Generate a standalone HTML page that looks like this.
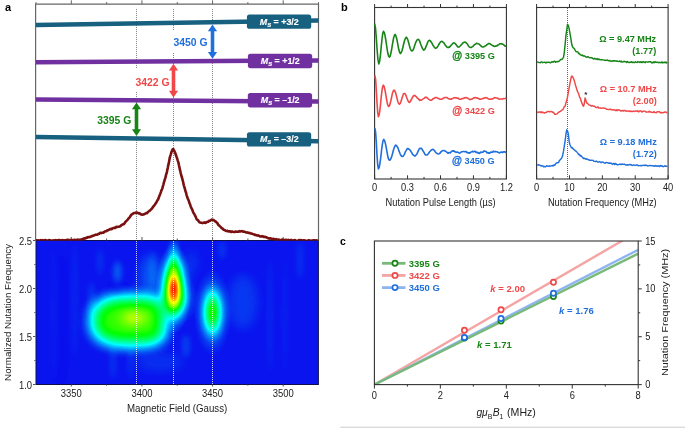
<!DOCTYPE html>
<html><head><meta charset="utf-8"><style>
html,body{margin:0;padding:0;background:#fff;overflow:hidden;width:685px;height:428px;}
svg{display:block;filter:blur(0.35px);}
text{font-family:"Liberation Sans", sans-serif;}
</style></head><body>
<svg width="685" height="428" viewBox="0 0 685 428">
<defs>
<filter id="cmap" x="0" y="0" width="1" height="1" color-interpolation-filters="sRGB">
<feComponentTransfer>
<feFuncR type="table" tableValues="0.04 0 0 1 1"/>
<feFuncG type="table" tableValues="0 1 1 1 0"/>
<feFuncB type="table" tableValues="0.93 1 0 0 0"/>
</feComponentTransfer>
</filter>
<filter id="bl5" filterUnits="userSpaceOnUse" x="30" y="230" width="300" height="170" color-interpolation-filters="sRGB"><feGaussianBlur stdDeviation="5"/></filter>
<filter id="bl9" filterUnits="userSpaceOnUse" x="30" y="230" width="300" height="170" color-interpolation-filters="sRGB"><feGaussianBlur stdDeviation="6"/></filter>
<filter id="bl7" filterUnits="userSpaceOnUse" x="30" y="230" width="300" height="170" color-interpolation-filters="sRGB"><feGaussianBlur stdDeviation="7"/></filter>
<filter id="bl3" filterUnits="userSpaceOnUse" x="30" y="230" width="300" height="170" color-interpolation-filters="sRGB"><feGaussianBlur stdDeviation="3"/></filter>
<clipPath id="hmclip"><rect x="36" y="240.5" width="282.5" height="144"/></clipPath>

<radialGradient id="gRed" cx="0.5" cy="0.5" r="0.5"><stop offset="0" stop-color="#fff" stop-opacity="0.969"/><stop offset="0.08" stop-color="#fff" stop-opacity="0.940"/><stop offset="0.17" stop-color="#fff" stop-opacity="0.855"/><stop offset="0.25" stop-color="#fff" stop-opacity="0.732"/><stop offset="0.33" stop-color="#fff" stop-opacity="0.588"/><stop offset="0.42" stop-color="#fff" stop-opacity="0.444"/><stop offset="0.5" stop-color="#fff" stop-opacity="0.315"/><stop offset="0.58" stop-color="#fff" stop-opacity="0.210"/><stop offset="0.67" stop-color="#fff" stop-opacity="0.131"/><stop offset="0.75" stop-color="#fff" stop-opacity="0.077"/><stop offset="0.83" stop-color="#fff" stop-opacity="0.043"/><stop offset="0.92" stop-color="#fff" stop-opacity="0.022"/><stop offset="1" stop-color="#fff" stop-opacity="0.000"/></radialGradient>
<radialGradient id="gRedLow" cx="0.5" cy="0.5" r="0.5"><stop offset="0" stop-color="#fff" stop-opacity="0.286"/><stop offset="0.08" stop-color="#fff" stop-opacity="0.277"/><stop offset="0.17" stop-color="#fff" stop-opacity="0.252"/><stop offset="0.25" stop-color="#fff" stop-opacity="0.216"/><stop offset="0.33" stop-color="#fff" stop-opacity="0.173"/><stop offset="0.42" stop-color="#fff" stop-opacity="0.131"/><stop offset="0.5" stop-color="#fff" stop-opacity="0.093"/><stop offset="0.58" stop-color="#fff" stop-opacity="0.062"/><stop offset="0.67" stop-color="#fff" stop-opacity="0.039"/><stop offset="0.75" stop-color="#fff" stop-opacity="0.023"/><stop offset="0.83" stop-color="#fff" stop-opacity="0.013"/><stop offset="0.92" stop-color="#fff" stop-opacity="0.007"/><stop offset="1" stop-color="#fff" stop-opacity="0.000"/></radialGradient>
<radialGradient id="gRedTop" cx="0.5" cy="0.5" r="0.5"><stop offset="0" stop-color="#fff" stop-opacity="0.235"/><stop offset="0.08" stop-color="#fff" stop-opacity="0.227"/><stop offset="0.17" stop-color="#fff" stop-opacity="0.207"/><stop offset="0.25" stop-color="#fff" stop-opacity="0.177"/><stop offset="0.33" stop-color="#fff" stop-opacity="0.142"/><stop offset="0.42" stop-color="#fff" stop-opacity="0.107"/><stop offset="0.5" stop-color="#fff" stop-opacity="0.076"/><stop offset="0.58" stop-color="#fff" stop-opacity="0.051"/><stop offset="0.67" stop-color="#fff" stop-opacity="0.032"/><stop offset="0.75" stop-color="#fff" stop-opacity="0.019"/><stop offset="0.83" stop-color="#fff" stop-opacity="0.010"/><stop offset="0.92" stop-color="#fff" stop-opacity="0.005"/><stop offset="1" stop-color="#fff" stop-opacity="0.000"/></radialGradient>
<radialGradient id="gSmall" cx="0.5" cy="0.5" r="0.5"><stop offset="0" stop-color="#fff" stop-opacity="0.490"/><stop offset="0.08" stop-color="#fff" stop-opacity="0.475"/><stop offset="0.17" stop-color="#fff" stop-opacity="0.432"/><stop offset="0.25" stop-color="#fff" stop-opacity="0.370"/><stop offset="0.33" stop-color="#fff" stop-opacity="0.297"/><stop offset="0.42" stop-color="#fff" stop-opacity="0.224"/><stop offset="0.5" stop-color="#fff" stop-opacity="0.159"/><stop offset="0.58" stop-color="#fff" stop-opacity="0.106"/><stop offset="0.67" stop-color="#fff" stop-opacity="0.066"/><stop offset="0.75" stop-color="#fff" stop-opacity="0.039"/><stop offset="0.83" stop-color="#fff" stop-opacity="0.022"/><stop offset="0.92" stop-color="#fff" stop-opacity="0.011"/><stop offset="1" stop-color="#fff" stop-opacity="0.000"/></radialGradient>
<radialGradient id="gYel" cx="0.5" cy="0.5" r="0.5"><stop offset="0" stop-color="#fff" stop-opacity="0.292"/><stop offset="0.08" stop-color="#fff" stop-opacity="0.283"/><stop offset="0.17" stop-color="#fff" stop-opacity="0.257"/><stop offset="0.25" stop-color="#fff" stop-opacity="0.220"/><stop offset="0.33" stop-color="#fff" stop-opacity="0.177"/><stop offset="0.42" stop-color="#fff" stop-opacity="0.134"/><stop offset="0.5" stop-color="#fff" stop-opacity="0.095"/><stop offset="0.58" stop-color="#fff" stop-opacity="0.063"/><stop offset="0.67" stop-color="#fff" stop-opacity="0.039"/><stop offset="0.75" stop-color="#fff" stop-opacity="0.023"/><stop offset="0.83" stop-color="#fff" stop-opacity="0.013"/><stop offset="0.92" stop-color="#fff" stop-opacity="0.007"/><stop offset="1" stop-color="#fff" stop-opacity="0.000"/></radialGradient>
<radialGradient id="gF12" cx="0.5" cy="0.5" r="0.5"><stop offset="0" stop-color="#fff" stop-opacity="0.102"/><stop offset="0.08" stop-color="#fff" stop-opacity="0.099"/><stop offset="0.17" stop-color="#fff" stop-opacity="0.090"/><stop offset="0.25" stop-color="#fff" stop-opacity="0.077"/><stop offset="0.33" stop-color="#fff" stop-opacity="0.062"/><stop offset="0.42" stop-color="#fff" stop-opacity="0.047"/><stop offset="0.5" stop-color="#fff" stop-opacity="0.033"/><stop offset="0.58" stop-color="#fff" stop-opacity="0.022"/><stop offset="0.67" stop-color="#fff" stop-opacity="0.014"/><stop offset="0.75" stop-color="#fff" stop-opacity="0.008"/><stop offset="0.83" stop-color="#fff" stop-opacity="0.004"/><stop offset="0.92" stop-color="#fff" stop-opacity="0.002"/><stop offset="1" stop-color="#fff" stop-opacity="0.000"/></radialGradient>
<radialGradient id="gF09" cx="0.5" cy="0.5" r="0.5"><stop offset="0" stop-color="#fff" stop-opacity="0.071"/><stop offset="0.08" stop-color="#fff" stop-opacity="0.069"/><stop offset="0.17" stop-color="#fff" stop-opacity="0.063"/><stop offset="0.25" stop-color="#fff" stop-opacity="0.054"/><stop offset="0.33" stop-color="#fff" stop-opacity="0.043"/><stop offset="0.42" stop-color="#fff" stop-opacity="0.033"/><stop offset="0.5" stop-color="#fff" stop-opacity="0.023"/><stop offset="0.58" stop-color="#fff" stop-opacity="0.015"/><stop offset="0.67" stop-color="#fff" stop-opacity="0.010"/><stop offset="0.75" stop-color="#fff" stop-opacity="0.006"/><stop offset="0.83" stop-color="#fff" stop-opacity="0.003"/><stop offset="0.92" stop-color="#fff" stop-opacity="0.002"/><stop offset="1" stop-color="#fff" stop-opacity="0.000"/></radialGradient>
<radialGradient id="gF06" cx="0.5" cy="0.5" r="0.5"><stop offset="0" stop-color="#fff" stop-opacity="0.041"/><stop offset="0.08" stop-color="#fff" stop-opacity="0.040"/><stop offset="0.17" stop-color="#fff" stop-opacity="0.036"/><stop offset="0.25" stop-color="#fff" stop-opacity="0.031"/><stop offset="0.33" stop-color="#fff" stop-opacity="0.025"/><stop offset="0.42" stop-color="#fff" stop-opacity="0.019"/><stop offset="0.5" stop-color="#fff" stop-opacity="0.013"/><stop offset="0.58" stop-color="#fff" stop-opacity="0.009"/><stop offset="0.67" stop-color="#fff" stop-opacity="0.006"/><stop offset="0.75" stop-color="#fff" stop-opacity="0.003"/><stop offset="0.83" stop-color="#fff" stop-opacity="0.002"/><stop offset="0.92" stop-color="#fff" stop-opacity="0.001"/><stop offset="1" stop-color="#fff" stop-opacity="0.000"/></radialGradient>
</defs>

<text x="5" y="10.8" font-size="11" font-weight="bold">a</text>

<g clip-path="url(#hmclip)"><g filter="url(#cmap)">
<rect x="36" y="240.5" width="282.5" height="144" fill="rgb(5,5,5)"/>
<g filter="url(#bl9)">
<path d="M170.8,321.5 L170.68,325.79 L170.31,328.78 L169.69,331.4 L168.84,333.77 L167.74,335.94 L166.4,337.93 L164.83,339.76 L163.01,341.43 L160.97,342.95 L158.7,344.31 L156.19,345.52 L153.44,346.57 L150.45,347.46 L147.2,348.19 L143.65,348.76 L139.72,349.17 L135.23,349.42 L128.8,349.5 L122.37,349.42 L117.88,349.17 L113.95,348.76 L110.4,348.19 L107.15,347.46 L104.16,346.57 L101.41,345.52 L98.9,344.31 L96.63,342.95 L94.59,341.43 L92.77,339.76 L91.2,337.93 L89.86,335.94 L88.76,333.77 L87.91,331.4 L87.29,328.78 L86.92,325.79 L86.8,321.5 L86.92,317.21 L87.29,314.22 L87.91,311.6 L88.76,309.23 L89.86,307.06 L91.2,305.07 L92.77,303.24 L94.59,301.57 L96.63,300.05 L98.9,298.69 L101.41,297.48 L104.16,296.43 L107.15,295.54 L110.4,294.81 L113.95,294.24 L117.88,293.83 L122.37,293.58 L128.8,293.5 L135.23,293.58 L139.72,293.83 L143.65,294.24 L147.2,294.81 L150.45,295.54 L153.44,296.43 L156.19,297.48 L158.7,298.69 L160.97,300.05 L163.01,301.57 L164.83,303.24 L166.4,305.07 L167.74,307.06 L168.84,309.23 L169.69,311.6 L170.31,314.22 L170.68,317.21 Z" fill="#fff" fill-opacity="0.11"/>
<ellipse cx="175" cy="290" rx="13" ry="32" fill="#fff" fill-opacity="0.08"/>
<ellipse cx="212.5" cy="312" rx="10" ry="24" fill="#fff" fill-opacity="0.06"/>
<ellipse cx="150" cy="276" rx="10" ry="22" fill="#fff" fill-opacity="0.07"/>
<ellipse cx="243" cy="302" rx="15" ry="28" fill="#fff" fill-opacity="0.04"/>
<ellipse cx="192" cy="262" rx="5" ry="14" fill="#fff" fill-opacity="0.04"/>
<ellipse cx="160" cy="362" rx="25" ry="10" fill="#fff" fill-opacity="0.03"/>
</g>
<g filter="url(#bl3)">
<ellipse cx="53" cy="310" rx="2" ry="70" fill="#fff" fill-opacity="0.025"/>
<ellipse cx="75" cy="300" rx="2.5" ry="60" fill="#fff" fill-opacity="0.03"/>
<ellipse cx="91.5" cy="300" rx="3" ry="18" fill="#fff" fill-opacity="0.05"/>
<ellipse cx="113" cy="362" rx="3" ry="18" fill="#fff" fill-opacity="0.04"/>
<ellipse cx="131" cy="362" rx="3" ry="18" fill="#fff" fill-opacity="0.035"/>
<ellipse cx="186" cy="346" rx="3.5" ry="12" fill="#fff" fill-opacity="0.06"/>
<ellipse cx="153" cy="270" rx="3" ry="20" fill="#fff" fill-opacity="0.04"/>
<ellipse cx="270" cy="315" rx="2.5" ry="60" fill="#fff" fill-opacity="0.03"/>
<ellipse cx="285" cy="315" rx="2.5" ry="60" fill="#fff" fill-opacity="0.025"/>
<ellipse cx="117.5" cy="272" rx="3.2" ry="11" fill="#fff" fill-opacity="0.1"/>
<ellipse cx="100" cy="262" rx="3" ry="14" fill="#fff" fill-opacity="0.04"/>
<ellipse cx="174" cy="252" rx="3" ry="13" fill="#fff" fill-opacity="0.12"/>
<ellipse cx="222" cy="250" rx="4" ry="10" fill="#fff" fill-opacity="0.04"/>
<ellipse cx="300" cy="260" rx="4" ry="20" fill="#fff" fill-opacity="0.03"/>
<ellipse cx="117.5" cy="290" rx="5" ry="3.5" fill="#000" fill-opacity="0.55"/>
<ellipse cx="169" cy="321" rx="3" ry="9" fill="#000" fill-opacity="0.45"/>
<ellipse cx="60" cy="320" rx="2" ry="60" fill="#000" fill-opacity="0.25"/>
</g>
<g filter="url(#bl7)">
<path d="M163.3,321.2 L163.27,327.69 L163.17,330.02 L163.01,331.74 L162.78,333.16 L162.49,334.36 L162.13,335.42 L161.7,336.37 L161.21,337.22 L160.64,337.99 L160,338.68 L159.28,339.32 L158.47,339.89 L157.59,340.4 L156.61,340.87 L155.53,341.28 L154.34,341.65 L153.02,341.97 L151.56,342.25 L149.91,342.48 L148.04,342.67 L145.85,342.81 L143.17,342.92 L139.56,342.98 L129.5,343 L125.49,342.96 L122.54,342.85 L119.9,342.66 L117.46,342.4 L115.18,342.07 L113.04,341.66 L111.02,341.18 L109.11,340.63 L107.32,340.01 L105.63,339.31 L104.06,338.55 L102.6,337.72 L101.24,336.82 L100,335.86 L98.87,334.82 L97.86,333.72 L96.96,332.55 L96.18,331.31 L95.52,329.99 L94.97,328.59 L94.55,327.1 L94.24,325.48 L94.06,323.66 L94,321.2 L94.06,318.63 L94.24,316.73 L94.55,315.03 L94.97,313.47 L95.52,312 L96.18,310.63 L96.96,309.33 L97.86,308.1 L98.87,306.95 L100,305.87 L101.24,304.86 L102.6,303.92 L104.06,303.05 L105.63,302.25 L107.32,301.53 L109.11,300.88 L111.02,300.3 L113.04,299.8 L115.18,299.37 L117.46,299.02 L119.9,298.75 L122.54,298.56 L125.49,298.44 L129.5,298.4 L139.56,298.42 L143.17,298.49 L145.85,298.6 L148.04,298.75 L149.91,298.95 L151.56,299.19 L153.02,299.48 L154.34,299.81 L155.53,300.2 L156.61,300.63 L157.59,301.11 L158.47,301.65 L159.28,302.25 L160,302.91 L160.64,303.64 L161.21,304.45 L161.7,305.33 L162.13,306.32 L162.49,307.43 L162.78,308.7 L163.01,310.17 L163.17,311.98 L163.27,314.42 Z" fill="#fff" fill-opacity="0.48"/>
</g>
<ellipse cx="134" cy="318" rx="28.5" ry="19.5" fill="url(#gYel)"/>
<ellipse cx="174.5" cy="299" rx="24" ry="27" fill="url(#gRedLow)"/>
<ellipse cx="173.7" cy="288.8" rx="18" ry="45" fill="url(#gRed)"/>
<ellipse cx="173.8" cy="268" rx="12.6" ry="27" fill="url(#gRedTop)"/>
<ellipse cx="212.5" cy="312.5" rx="18.9" ry="43.5" fill="url(#gSmall)"/>
</g>
<line x1="136.5" y1="241" x2="136.5" y2="384" stroke="#fff" stroke-width="1" stroke-dasharray="1,1" stroke-opacity="0.8"/>
<line x1="173.5" y1="241" x2="173.5" y2="384" stroke="#fff" stroke-width="1" stroke-dasharray="1,1" stroke-opacity="0.8"/>
<line x1="212.5" y1="241" x2="212.5" y2="384" stroke="#fff" stroke-width="1" stroke-dasharray="1,1" stroke-opacity="0.8"/>
</g>

<rect x="36" y="240.5" width="282.4" height="144" fill="none" stroke="#101048" stroke-width="1"/>

<path d="M35.6,240.5 V4.1 H318.5 V240.5" fill="none" stroke="#666" stroke-width="1.2"/>

<line x1="36" y1="2.1" x2="36" y2="4" stroke="#666" stroke-width="1"/>
<line x1="71.31" y1="0.3" x2="71.31" y2="4" stroke="#666" stroke-width="1"/>
<line x1="106.62" y1="2.1" x2="106.62" y2="4" stroke="#666" stroke-width="1"/>
<line x1="141.94" y1="0.3" x2="141.94" y2="4" stroke="#666" stroke-width="1"/>
<line x1="177.25" y1="2.1" x2="177.25" y2="4" stroke="#666" stroke-width="1"/>
<line x1="212.56" y1="0.3" x2="212.56" y2="4" stroke="#666" stroke-width="1"/>
<line x1="247.88" y1="2.1" x2="247.88" y2="4" stroke="#666" stroke-width="1"/>
<line x1="283.19" y1="0.3" x2="283.19" y2="4" stroke="#666" stroke-width="1"/>
<line x1="318.5" y1="2.1" x2="318.5" y2="4" stroke="#666" stroke-width="1"/>
<line x1="71.31" y1="237.0" x2="71.31" y2="240.5" stroke="#444" stroke-width="0.9"/>
<line x1="71.31" y1="384.5" x2="71.31" y2="386.5" stroke="#444" stroke-width="0.9"/>
<line x1="106.62" y1="238.5" x2="106.62" y2="240.5" stroke="#444" stroke-width="0.9"/>
<line x1="106.62" y1="384.5" x2="106.62" y2="385.7" stroke="#444" stroke-width="0.9"/>
<line x1="141.94" y1="237.0" x2="141.94" y2="240.5" stroke="#444" stroke-width="0.9"/>
<line x1="141.94" y1="384.5" x2="141.94" y2="386.5" stroke="#444" stroke-width="0.9"/>
<line x1="177.25" y1="238.5" x2="177.25" y2="240.5" stroke="#444" stroke-width="0.9"/>
<line x1="177.25" y1="384.5" x2="177.25" y2="385.7" stroke="#444" stroke-width="0.9"/>
<line x1="212.56" y1="237.0" x2="212.56" y2="240.5" stroke="#444" stroke-width="0.9"/>
<line x1="212.56" y1="384.5" x2="212.56" y2="386.5" stroke="#444" stroke-width="0.9"/>
<line x1="247.88" y1="238.5" x2="247.88" y2="240.5" stroke="#444" stroke-width="0.9"/>
<line x1="247.88" y1="384.5" x2="247.88" y2="385.7" stroke="#444" stroke-width="0.9"/>
<line x1="283.19" y1="237.0" x2="283.19" y2="240.5" stroke="#444" stroke-width="0.9"/>
<line x1="283.19" y1="384.5" x2="283.19" y2="386.5" stroke="#444" stroke-width="0.9"/>
<line x1="33.0" y1="240.5" x2="35.5" y2="240.5" stroke="#444" stroke-width="0.9"/>
<line x1="34.3" y1="264.5" x2="35.5" y2="264.5" stroke="#444" stroke-width="0.9"/>
<line x1="33.0" y1="288.5" x2="35.5" y2="288.5" stroke="#444" stroke-width="0.9"/>
<line x1="34.3" y1="312.5" x2="35.5" y2="312.5" stroke="#444" stroke-width="0.9"/>
<line x1="33.0" y1="336.5" x2="35.5" y2="336.5" stroke="#444" stroke-width="0.9"/>
<line x1="34.3" y1="360.5" x2="35.5" y2="360.5" stroke="#444" stroke-width="0.9"/>
<line x1="33.0" y1="384.5" x2="35.5" y2="384.5" stroke="#444" stroke-width="0.9"/>
<text transform="translate(32.1,244.5) scale(0.9,1.0)" font-size="10.5" text-anchor="end" fill="#222">2.5</text>
<text transform="translate(32.1,292.5) scale(0.9,1.0)" font-size="10.5" text-anchor="end" fill="#222">2.0</text>
<text transform="translate(32.1,340.5) scale(0.9,1.0)" font-size="10.5" text-anchor="end" fill="#222">1.5</text>
<text transform="translate(32.1,388.5) scale(0.9,1.0)" font-size="10.5" text-anchor="end" fill="#222">1.0</text>
<text transform="translate(71.31,396.9) scale(0.9,1.0)" font-size="10.5" text-anchor="middle" fill="#222">3350</text>
<text transform="translate(141.94,396.9) scale(0.9,1.0)" font-size="10.5" text-anchor="middle" fill="#222">3400</text>
<text transform="translate(212.56,396.9) scale(0.9,1.0)" font-size="10.5" text-anchor="middle" fill="#222">3450</text>
<text transform="translate(283.19,396.9) scale(0.9,1.0)" font-size="10.5" text-anchor="middle" fill="#222">3500</text>
<text transform="translate(177.1,411.5) scale(0.925,1.0)" font-size="10.5" text-anchor="middle" fill="#222">Magnetic Field (Gauss)</text>
<text transform="translate(11,312.4) rotate(-90) scale(1.0,0.95)" font-size="9.75" text-anchor="middle" fill="#222">Normalized Nutation Frequency</text>
<line x1="136.5" y1="9" x2="136.5" y2="68" stroke="#858585" stroke-width="1" stroke-dasharray="1,1"/>
<line x1="136.5" y1="92" x2="136.5" y2="240" stroke="#858585" stroke-width="1" stroke-dasharray="1,1"/>
<line x1="173.5" y1="9" x2="173.5" y2="30" stroke="#858585" stroke-width="1" stroke-dasharray="1,1"/>
<line x1="173.5" y1="53" x2="173.5" y2="240" stroke="#858585" stroke-width="1" stroke-dasharray="1,1"/>
<line x1="212.5" y1="9" x2="212.5" y2="240" stroke="#858585" stroke-width="1" stroke-dasharray="1,1"/>
<line x1="36" y1="24.9" x2="318.5" y2="20.6" stroke="#17607f" stroke-width="4.5"/>
<line x1="36" y1="62.2" x2="318.5" y2="60.4" stroke="#7030a0" stroke-width="4.5"/>
<line x1="36" y1="99.5" x2="318.5" y2="101.6" stroke="#7030a0" stroke-width="4.5"/>
<line x1="36" y1="136.9" x2="318.5" y2="141.2" stroke="#17607f" stroke-width="4.5"/>
<rect x="246.9" y="14.4" width="64.3" height="14.4" rx="2.6" fill="#17607f"/>
<text x="279.3" y="24.6" font-size="8.9" font-weight="bold" fill="#fff" stroke="#fff" stroke-width="0.15" text-anchor="middle"><tspan font-style="italic">M</tspan><tspan font-style="italic" font-size="5.8" dy="2">S</tspan><tspan dy="-2"> = +3/2</tspan></text>
<rect x="247.9" y="53.8" width="64.3" height="14.4" rx="2.6" fill="#7030a0"/>
<text x="280.3" y="64" font-size="8.9" font-weight="bold" fill="#fff" stroke="#fff" stroke-width="0.15" text-anchor="middle"><tspan font-style="italic">M</tspan><tspan font-style="italic" font-size="5.8" dy="2">S</tspan><tspan dy="-2"> = +1/2</tspan></text>
<rect x="247.8" y="93.0" width="64.3" height="14.4" rx="2.6" fill="#7030a0"/>
<text x="280.2" y="103.2" font-size="8.9" font-weight="bold" fill="#fff" stroke="#fff" stroke-width="0.15" text-anchor="middle"><tspan font-style="italic">M</tspan><tspan font-style="italic" font-size="5.8" dy="2">S</tspan><tspan dy="-2"> = –1/2</tspan></text>
<rect x="246.9" y="132.2" width="64.3" height="14.4" rx="2.6" fill="#17607f"/>
<text x="279.3" y="142.4" font-size="8.9" font-weight="bold" fill="#fff" stroke="#fff" stroke-width="0.15" text-anchor="middle"><tspan font-style="italic">M</tspan><tspan font-style="italic" font-size="5.8" dy="2">S</tspan><tspan dy="-2"> = –3/2</tspan></text>
<path d="M136.5,102.4 L141.1,109.2 L138.3,109.2 L138.3,129.2 L141.1,129.2 L136.5,136.0 L131.9,129.2 L134.7,129.2 L134.7,109.2 L131.9,109.2 Z" fill="#168516"/>
<path d="M173.5,63.7 L178.1,70.5 L175.3,70.5 L175.3,90.8 L178.1,90.8 L173.5,97.6 L168.9,90.8 L171.7,90.8 L171.7,70.5 L168.9,70.5 Z" fill="#f04848"/>
<path d="M212.5,24.5 L217.1,31.3 L214.3,31.3 L214.3,51.9 L217.1,51.9 L212.5,58.7 L207.9,51.9 L210.7,51.9 L210.7,31.3 L207.9,31.3 Z" fill="#1f6fdc"/>
<text x="97.2" y="123.9" font-size="10.4" font-weight="bold" fill="#168516">3395 G</text>
<text x="135.4" y="85.9" font-size="10.4" font-weight="bold" fill="#f04848">3422 G</text>
<text x="173.4" y="46.4" font-size="10.4" font-weight="bold" fill="#1f6fdc">3450 G</text>

<clipPath id="specclip"><rect x="36" y="0" width="283" height="240.4"/></clipPath>
<path d="M36,240.44 L36.52,240.28 L37.16,240.73 L37.89,240.2 L38.7,240.62 L39.59,240.46 L40.54,240.17 L41.55,240.57 L42.59,240.14 L43.66,240.49 L44.74,240.16 L45.83,240.17 L46.91,240.46 L47.98,240.81 L49.01,240.17 L50,240.25 L50.91,240.61 L51.83,240.89 L52.75,240.55 L53.68,240.38 L54.61,240.89 L55.55,240.05 L56.49,240.77 L57.44,240.25 L58.38,240.11 L59.33,240.07 L60.28,240.23 L61.23,240.67 L62.17,240.08 L63.12,240.42 L64.06,240.45 L65,240.19 L65.95,240.32 L66.92,239.85 L67.91,239.82 L68.91,239.93 L69.92,240.33 L70.93,240.07 L71.94,239.94 L72.94,240.15 L73.92,239.99 L74.89,239.81 L75.83,240.21 L76.74,240.07 L77.62,239.6 L78.46,239.83 L79.25,239.71 L80,239.94 L81.2,239.63 L82.27,239.02 L83.22,239.42 L84.09,238.39 L84.9,238.4 L85.67,238.44 L86.42,237.62 L87.19,237.65 L88,236.99 L88.92,237.26 L89.8,237.06 L90.65,236.59 L91.5,236.57 L92.35,235.76 L93.2,235.8 L94.08,235.4 L95,235.07 L95.85,234.67 L96.73,234.73 L97.63,234.52 L98.54,233.8 L99.46,233.66 L100.37,232.82 L101.27,233.09 L102.15,232.73 L103,232.74 L103.92,232.25 L104.82,231.43 L105.7,231.18 L106.56,231.1 L107.42,230.18 L108.27,230.23 L109.13,229.63 L110,229.26 L110.89,228.87 L111.8,229.17 L112.71,228.26 L113.62,228.03 L114.52,227.83 L115.39,227.94 L116.22,226.92 L117,226.95 L117.95,226.7 L118.81,226.72 L119.62,226.4 L120.41,226.15 L121.19,225.27 L122,224.92 L122.84,224.29 L123.68,224.11 L124.52,223.45 L125.36,221.95 L126.18,221.15 L127,220.36 L127.97,219.24 L128.93,218.2 L129.87,217.02 L130.8,215.55 L131.7,214.35 L132.58,213.97 L133.44,213.3 L134.29,213 L135.11,213 L135.9,212.57 L136.84,212.47 L137.72,212.91 L138.59,213.41 L139.5,213.2 L140.44,214.23 L141.39,214.4 L142.37,214.66 L143.4,214.57 L144.27,214.03 L145.18,213.77 L146.12,213.12 L147.06,213.12 L148,212.01 L148.93,211.3 L149.87,210.61 L150.82,209.65 L151.76,208.78 L152.7,207.4 L153.64,206.16 L154.58,205.05 L155.53,203.63 L156.47,202.33 L157.4,200.27 L157.98,199.83 L158.55,198.31 L159.13,196.54 L159.7,195.2 L160.27,193.79 L160.85,192.23 L161.42,190.37 L162,189.31 L162.43,188.13 L162.86,186.29 L163.31,184.87 L163.75,183.04 L164.2,181.54 L164.64,180.23 L165.08,178.61 L165.5,177.57 L165.92,175.42 L166.32,173.77 L166.7,173.11 L167.06,171.21 L167.41,169.29 L167.75,168.04 L168.08,165.96 L168.39,164.8 L168.7,163.62 L169.01,161.98 L169.31,160.36 L169.6,158.59 L169.9,157.42 L170.2,156.1 L170.83,154.37 L171.43,152.13 L172.02,150.76 L172.64,149.36 L173.3,149.05 L173.82,150.02 L174.37,151.09 L174.94,152.25 L175.51,153.76 L176.09,155.48 L176.66,157.19 L177.2,158.45 L177.57,159.93 L177.92,161.08 L178.28,162.14 L178.62,163.54 L178.97,165.21 L179.31,166.66 L179.66,168.53 L180,170.24 L180.35,171.23 L180.7,173.09 L181.06,174.55 L181.42,175.95 L181.78,176.85 L182.14,178.16 L182.5,179.6 L182.86,180.99 L183.22,182.4 L183.58,184.16 L183.94,185.75 L184.3,187.01 L184.73,188.25 L185.16,189.92 L185.57,191.53 L185.99,192.32 L186.41,194.26 L186.85,195.9 L187.31,197.21 L187.8,198.63 L188.32,199.86 L188.87,201.09 L189.44,203.15 L190.03,204.25 L190.62,206.16 L191.22,207.77 L191.81,208.66 L192.4,210.01 L193.07,212.01 L193.74,213.3 L194.41,214.26 L195.08,215.61 L195.75,216.92 L196.43,218.76 L197.1,219.68 L198.04,220.22 L198.98,221.71 L199.93,222.51 L200.87,222.7 L201.8,222.77 L202.72,223.1 L203.62,222.67 L204.52,222.36 L205.44,222.93 L206.4,222.33 L207.24,221.88 L208.13,221.79 L209.02,220.83 L209.92,220.75 L210.78,220.35 L211.6,219.64 L212.5,219.74 L213.35,220.04 L214.17,220.41 L214.98,221.26 L215.8,221.58 L216.6,222.47 L217.37,223.11 L218.15,224.8 L219.01,225.31 L220,226.36 L220.8,227.17 L221.66,228.19 L222.57,228.5 L223.52,229.67 L224.5,229.96 L225.5,230.57 L226.5,231.02 L227.39,230.86 L228.29,231.44 L229.22,231.35 L230.16,231.27 L231.11,232.02 L232.07,231.48 L233.03,231.76 L234,232 L234.88,231.85 L235.78,231.6 L236.7,231.71 L237.63,231.67 L238.55,231.79 L239.46,231.1 L240.35,231.46 L241.2,231.15 L242,231.2 L242.96,231.73 L243.84,231.61 L244.67,231.82 L245.48,232.19 L246.29,232.53 L247.12,232.33 L248,232.7 L248.93,232.84 L249.87,233.1 L250.84,233.53 L251.82,233.6 L252.8,233.96 L253.8,234.2 L254.8,234.9 L255.66,234.92 L256.49,235.32 L257.32,235.62 L258.16,235.25 L259.03,235.77 L259.94,236.37 L260.93,236.54 L262,236.17 L262.84,236.37 L263.71,236.88 L264.62,236.77 L265.57,237.16 L266.54,237.25 L267.53,238.02 L268.54,238.35 L269.57,238.68 L270.61,238.22 L271.65,238.92 L272.7,239.04 L273.59,238.71 L274.48,239.5 L275.37,239.7 L276.28,239.13 L277.19,239.89 L278.12,239.49 L279.05,239.66 L280,240.19 L280.96,240.13 L281.94,239.6 L282.94,239.91 L283.96,240.05 L285,239.96 L285.86,239.87 L286.73,240.03 L287.6,240.43 L288.49,239.83 L289.39,240.34 L290.3,240.27 L291.21,239.91 L292.14,240.22 L293.08,240.5 L294.04,240.42 L295,240.03 L295.98,240.88 L296.96,240.71 L297.96,240.89 L298.98,240.13 L300,240.29 L300.9,240.1 L301.86,240.77 L302.86,240.33 L303.91,240.21 L304.98,240.48 L306.08,240.93 L307.18,240.85 L308.29,240.35 L309.39,240.26 L310.48,240.95 L311.54,240.64 L312.56,240.76 L313.54,240.22 L314.47,240.19 L315.34,240.76 L316.13,240.53 L316.85,240.21 L317.47,240.99 L318,240.72" fill="none" stroke="#7b1010" stroke-width="2.6" stroke-linejoin="round" clip-path="url(#specclip)"/>

<text x="341" y="10.8" font-size="11" font-weight="bold">b</text>

<rect x="374.6" y="7.5" width="131.8" height="171.5" fill="none" stroke="#333" stroke-width="1.1"/>
<line x1="374.6" y1="4.0" x2="374.6" y2="7.5" stroke="#333" stroke-width="1"/>
<line x1="374.6" y1="179.0" x2="374.6" y2="175.3" stroke="#333" stroke-width="1"/>
<line x1="391.08" y1="5.6" x2="391.08" y2="7.5" stroke="#333" stroke-width="1"/>
<line x1="391.08" y1="179.0" x2="391.08" y2="176.9" stroke="#333" stroke-width="1"/>
<line x1="407.55" y1="4.0" x2="407.55" y2="7.5" stroke="#333" stroke-width="1"/>
<line x1="407.55" y1="179.0" x2="407.55" y2="175.3" stroke="#333" stroke-width="1"/>
<line x1="424.02" y1="5.6" x2="424.02" y2="7.5" stroke="#333" stroke-width="1"/>
<line x1="424.02" y1="179.0" x2="424.02" y2="176.9" stroke="#333" stroke-width="1"/>
<line x1="440.5" y1="4.0" x2="440.5" y2="7.5" stroke="#333" stroke-width="1"/>
<line x1="440.5" y1="179.0" x2="440.5" y2="175.3" stroke="#333" stroke-width="1"/>
<line x1="456.98" y1="5.6" x2="456.98" y2="7.5" stroke="#333" stroke-width="1"/>
<line x1="456.98" y1="179.0" x2="456.98" y2="176.9" stroke="#333" stroke-width="1"/>
<line x1="473.45" y1="4.0" x2="473.45" y2="7.5" stroke="#333" stroke-width="1"/>
<line x1="473.45" y1="179.0" x2="473.45" y2="175.3" stroke="#333" stroke-width="1"/>
<line x1="489.92" y1="5.6" x2="489.92" y2="7.5" stroke="#333" stroke-width="1"/>
<line x1="489.92" y1="179.0" x2="489.92" y2="176.9" stroke="#333" stroke-width="1"/>
<line x1="506.4" y1="4.0" x2="506.4" y2="7.5" stroke="#333" stroke-width="1"/>
<line x1="506.4" y1="179.0" x2="506.4" y2="175.3" stroke="#333" stroke-width="1"/>
<text transform="translate(374.6,190.7) scale(0.895,1.0)" font-size="10.4" text-anchor="middle" fill="#222">0</text>
<text transform="translate(407.55,190.7) scale(0.895,1.0)" font-size="10.4" text-anchor="middle" fill="#222">0.3</text>
<text transform="translate(440.5,190.7) scale(0.895,1.0)" font-size="10.4" text-anchor="middle" fill="#222">0.6</text>
<text transform="translate(473.45,190.7) scale(0.895,1.0)" font-size="10.4" text-anchor="middle" fill="#222">0.9</text>
<text transform="translate(506.4,190.7) scale(0.895,1.0)" font-size="10.4" text-anchor="middle" fill="#222">1.2</text>
<text transform="translate(440.6,205.6) scale(0.91,1.0)" font-size="10.2" text-anchor="middle" fill="#222">Nutation Pulse Length (µs)</text>
<rect x="536.6" y="7.5" width="131.5" height="171.5" fill="none" stroke="#333" stroke-width="1.1"/>
<line x1="536.6" y1="4.0" x2="536.6" y2="7.5" stroke="#333" stroke-width="1"/>
<line x1="536.6" y1="179.0" x2="536.6" y2="175.3" stroke="#333" stroke-width="1"/>
<line x1="553.04" y1="5.6" x2="553.04" y2="7.5" stroke="#333" stroke-width="1"/>
<line x1="553.04" y1="179.0" x2="553.04" y2="176.9" stroke="#333" stroke-width="1"/>
<line x1="569.48" y1="4.0" x2="569.48" y2="7.5" stroke="#333" stroke-width="1"/>
<line x1="569.48" y1="179.0" x2="569.48" y2="175.3" stroke="#333" stroke-width="1"/>
<line x1="585.91" y1="5.6" x2="585.91" y2="7.5" stroke="#333" stroke-width="1"/>
<line x1="585.91" y1="179.0" x2="585.91" y2="176.9" stroke="#333" stroke-width="1"/>
<line x1="602.35" y1="4.0" x2="602.35" y2="7.5" stroke="#333" stroke-width="1"/>
<line x1="602.35" y1="179.0" x2="602.35" y2="175.3" stroke="#333" stroke-width="1"/>
<line x1="618.79" y1="5.6" x2="618.79" y2="7.5" stroke="#333" stroke-width="1"/>
<line x1="618.79" y1="179.0" x2="618.79" y2="176.9" stroke="#333" stroke-width="1"/>
<line x1="635.23" y1="4.0" x2="635.23" y2="7.5" stroke="#333" stroke-width="1"/>
<line x1="635.23" y1="179.0" x2="635.23" y2="175.3" stroke="#333" stroke-width="1"/>
<line x1="651.66" y1="5.6" x2="651.66" y2="7.5" stroke="#333" stroke-width="1"/>
<line x1="651.66" y1="179.0" x2="651.66" y2="176.9" stroke="#333" stroke-width="1"/>
<line x1="668.1" y1="4.0" x2="668.1" y2="7.5" stroke="#333" stroke-width="1"/>
<line x1="668.1" y1="179.0" x2="668.1" y2="175.3" stroke="#333" stroke-width="1"/>
<text transform="translate(536.6,190.7) scale(0.895,1.0)" font-size="10.4" text-anchor="middle" fill="#222">0</text>
<text transform="translate(569.48,190.7) scale(0.895,1.0)" font-size="10.4" text-anchor="middle" fill="#222">10</text>
<text transform="translate(602.35,190.7) scale(0.895,1.0)" font-size="10.4" text-anchor="middle" fill="#222">20</text>
<text transform="translate(635.23,190.7) scale(0.895,1.0)" font-size="10.4" text-anchor="middle" fill="#222">30</text>
<text transform="translate(668.1,190.7) scale(0.895,1.0)" font-size="10.4" text-anchor="middle" fill="#222">40</text>
<text transform="translate(602.3,205.6) scale(0.91,1.0)" font-size="10.2" text-anchor="middle" fill="#222">Nutation Frequency (MHz)</text>
<line x1="567.5" y1="8" x2="567.5" y2="179" stroke="#666" stroke-width="1" stroke-dasharray="1,1"/>
<path d="M374.6,23.7 L375.44,27.67 L376.28,37.31 L377.12,50.06 L377.96,59.66 L378.8,63.88 L379.58,61.52 L380.37,55.57 L381.15,47.63 L381.93,39.76 L382.72,33.54 L383.5,31.31 L384.23,32.49 L384.95,35.13 L385.68,39.24 L386.4,44.18 L387.12,49.04 L387.85,53.29 L388.57,56.13 L389.3,57.1 L390.03,56.47 L390.75,53.8 L391.48,50.26 L392.2,45.79 L392.93,41.57 L393.65,37.75 L394.38,35.43 L395.1,34.46 L395.86,35.74 L396.61,38.25 L397.37,41.81 L398.13,46.12 L398.89,50.1 L399.64,52.28 L400.4,53.56 L401.14,52.75 L401.88,51.04 L402.61,48.6 L403.35,45.3 L404.09,42.27 L404.82,39.75 L405.56,38.15 L406.3,37.22 L407.09,38.15 L407.87,40.02 L408.66,42.77 L409.44,45.75 L410.23,48.51 L411.01,50.29 L411.8,51.01 L412.56,50.53 L413.32,49.56 L414.09,47.37 L414.85,45.03 L415.61,42.7 L416.38,41.13 L417.14,39.84 L417.9,39.29 L418.64,39.5 L419.38,40.64 L420.11,42.4 L420.85,44.53 L421.59,46.43 L422.32,48.31 L423.06,49.37 L423.8,50.13 L424.59,49.67 L425.37,48.15 L426.16,46.12 L426.94,44.39 L427.73,42.17 L428.51,40.89 L429.3,40.25 L430.02,40.68 L430.74,41.41 L431.47,42.48 L432.19,43.61 L432.91,45.14 L433.63,46.18 L434.36,47.36 L435.08,47.96 L435.8,48.35 L436.53,47.9 L437.25,47.12 L437.98,46.11 L438.7,44.72 L439.43,43.53 L440.15,42.35 L440.88,41.7 L441.6,41.38 L442.32,41.59 L443.04,42.21 L443.77,42.79 L444.49,43.77 L445.21,45.18 L445.93,45.77 L446.66,46.89 L447.38,47.38 L448.1,47.27 L448.86,47.49 L449.62,47.02 L450.39,46.14 L451.15,45.32 L451.91,44.48 L452.68,43.39 L453.44,43.09 L454.2,42.9 L454.92,43.34 L455.63,44.08 L456.35,45.11 L457.07,46.02 L457.78,46.92 L458.5,47.09 L459.2,46.95 L459.9,46.28 L460.6,45.52 L461.3,44.75 L462,44 L462.7,43.05 L463.4,42.75 L464.1,42.18 L464.8,42.06 L465.53,42.27 L466.25,42.9 L466.98,43.69 L467.7,44.5 L468.43,45.95 L469.15,46.82 L469.88,47.29 L470.6,47.52 L471.33,47.46 L472.07,46.8 L472.8,46.59 L473.53,45.68 L474.27,44.88 L475,44.31 L475.73,43.99 L476.47,43.38 L477.2,43.52 L477.95,43.77 L478.7,43.92 L479.45,44.45 L480.2,45.19 L480.95,45.98 L481.7,46.61 L482.45,46.92 L483.2,47.07 L483.95,46.66 L484.7,46.34 L485.45,45.86 L486.2,45.47 L486.95,44.62 L487.7,44.22 L488.45,43.58 L489.2,43.48 L489.99,43.72 L490.77,44.29 L491.56,44.85 L492.34,45.44 L493.13,45.79 L493.91,46.27 L494.7,46.38 L495.42,46.3 L496.14,45.89 L496.87,45.92 L497.59,45.13 L498.31,45.05 L499.03,44.59 L499.76,43.77 L500.48,43.76 L501.2,43.86 L501.91,44.06 L502.63,44.15 L503.34,44.56 L504.06,45.08 L504.77,45.95 L505.49,45.93 L506.2,46.24" fill="none" stroke="#168516" stroke-width="1.6" stroke-linejoin="round"/>
<path d="M374.9,75.5 L375.6,79.24 L376.3,89.68 L377,102.56 L377.7,112.4 L378.4,116.66 L379.1,114.96 L379.8,110.84 L380.5,104.51 L381.2,97.36 L381.9,91.45 L382.6,86.93 L383.3,85.16 L384.07,86.2 L384.84,89.39 L385.61,93.62 L386.39,98.26 L387.16,102.43 L387.93,105.47 L388.7,106.51 L389.46,105.95 L390.21,103.23 L390.97,100.27 L391.73,96.62 L392.49,92.94 L393.24,91.04 L394,90.11 L394.77,90.9 L395.54,92.57 L396.31,95.46 L397.09,98.63 L397.86,101.78 L398.63,103.54 L399.4,104.13 L400.1,103.62 L400.8,102.02 L401.5,99.7 L402.2,97.28 L402.9,95.44 L403.6,93.64 L404.3,93.42 L405.12,93.68 L405.93,95.33 L406.75,97.71 L407.57,99.79 L408.38,101.53 L409.2,102.43 L409.9,102.06 L410.6,101.09 L411.3,99.66 L412,98.31 L412.7,96.98 L413.4,95.86 L414.1,95.61 L414.82,95.42 L415.54,96.18 L416.27,96.68 L416.99,97.61 L417.71,98.39 L418.43,98.99 L419.16,99.51 L419.88,100.37 L420.6,100.11 L421.36,100.14 L422.11,99.66 L422.87,99.03 L423.63,98.59 L424.39,98.1 L425.14,97.33 L425.9,97.38 L426.67,97.4 L427.43,98.08 L428.2,98.75 L428.97,99.38 L429.73,99.93 L430.5,100.15 L431.32,100.32 L432.13,99.62 L432.95,98.81 L433.77,98.48 L434.58,98.03 L435.4,97.57 L436.13,97.5 L436.86,97.77 L437.59,98.06 L438.31,98.56 L439.04,98.78 L439.77,99.09 L440.5,99.18 L441.21,99.25 L441.93,99.15 L442.64,98.73 L443.36,98.16 L444.07,97.8 L444.79,97.6 L445.5,97.44 L446.21,97.5 L446.93,97.6 L447.64,98.05 L448.36,98.77 L449.07,98.69 L449.79,99.12 L450.5,99.26 L451.21,99.3 L451.93,98.76 L452.64,98.46 L453.36,98.1 L454.07,97.85 L454.79,97.65 L455.5,97.83 L456.21,97.85 L456.93,98.09 L457.64,97.98 L458.36,98.34 L459.07,99 L459.79,99.32 L460.5,99.19 L461.21,99.16 L461.93,98.65 L462.64,98.52 L463.36,98.44 L464.07,98.06 L464.79,97.86 L465.5,97.84 L466.21,97.56 L466.93,97.72 L467.64,98.09 L468.36,98.65 L469.07,99.07 L469.79,99.44 L470.5,99.41 L471.21,99.29 L471.93,99.11 L472.64,98.62 L473.36,98.29 L474.07,97.69 L474.79,97.83 L475.5,97.47 L476.21,97.89 L476.93,97.97 L477.64,98.12 L478.36,98.39 L479.07,98.77 L479.79,99.19 L480.5,99.3 L481.21,98.94 L481.93,98.72 L482.64,98.67 L483.36,98.39 L484.07,98.01 L484.79,97.73 L485.5,97.85 L486.21,97.62 L486.93,97.96 L487.64,98.32 L488.36,98.89 L489.07,99.01 L489.79,99.32 L490.5,99.19 L491.21,99 L491.93,98.81 L492.64,98.89 L493.36,98.45 L494.07,97.97 L494.79,97.63 L495.5,97.8 L496.21,97.96 L496.93,98.02 L497.64,98.22 L498.36,98.74 L499.07,99.15 L499.79,98.99 L500.5,98.97 L501.21,99.08 L501.93,99.03 L502.64,99.01 L503.35,98.6 L504.06,98.73 L504.77,98.55 L505.49,98.34 L506.2,98.15" fill="none" stroke="#f04848" stroke-width="1.6" stroke-linejoin="round"/>
<path d="M374.9,128.1 L375.6,132.24 L376.3,142.14 L377,155.03 L377.7,164.96 L378.4,168.86 L379.17,167.67 L379.94,163.34 L380.71,157.76 L381.49,150.97 L382.26,144.9 L383.03,140.82 L383.8,139.46 L384.51,140.38 L385.23,142.8 L385.94,145.81 L386.65,149.95 L387.36,153.87 L388.07,157.66 L388.79,159.52 L389.5,160.28 L390.2,159.82 L390.9,158.67 L391.6,156.9 L392.3,154.41 L393,151.7 L393.7,149.35 L394.4,147.29 L395.1,145.67 L395.8,145.14 L396.52,145.86 L397.24,146.76 L397.97,147.92 L398.69,150.09 L399.41,151.93 L400.13,153.79 L400.86,155.28 L401.58,156.19 L402.3,156.45 L403.1,156.19 L403.9,155.1 L404.7,153.78 L405.5,151.56 L406.3,150.36 L407.1,148.85 L407.9,148.53 L408.6,148.94 L409.3,149.46 L410,150.07 L410.7,150.9 L411.4,152.24 L412.1,153.31 L412.8,154.61 L413.5,155.05 L414.2,155.65 L414.9,156.1 L415.61,155.37 L416.32,154.73 L417.04,153.68 L417.75,152.18 L418.46,150.35 L419.18,149.1 L419.89,148.27 L420.6,148.41 L421.33,148.34 L422.05,149.33 L422.77,150.53 L423.5,151.57 L424.23,152.86 L424.95,154.32 L425.67,154.9 L426.4,154.98 L427.15,154.99 L427.9,154.17 L428.65,153.23 L429.4,152 L430.15,151.29 L430.9,150.44 L431.65,149.68 L432.4,149.62 L433.14,149.34 L433.88,149.94 L434.61,150.81 L435.35,151.93 L436.09,152.81 L436.82,153.27 L437.56,153.7 L438.3,153.96 L439.12,153.75 L439.93,153.29 L440.75,151.99 L441.57,151.38 L442.38,150.67 L443.2,150.46 L443.99,150.58 L444.77,150.88 L445.56,151.18 L446.34,151.79 L447.13,152.41 L447.91,153.3 L448.7,152.59 L449.46,152.63 L450.21,153.01 L450.97,151.98 L451.73,151.29 L452.49,150.84 L453.24,151.17 L454,150.79 L454.71,151.68 L455.43,151.84 L456.14,152.36 L456.86,151.94 L457.57,152.12 L458.29,152.42 L459,153 L459.71,153.16 L460.43,152.6 L461.14,151.98 L461.86,151.8 L462.57,151.68 L463.29,151.5 L464,151.5 L464.71,151.71 L465.43,151.74 L466.14,151.45 L466.86,152.71 L467.57,152.41 L468.29,152.99 L469,152.85 L469.71,153.21 L470.43,152.34 L471.14,152.07 L471.86,151.72 L472.57,151.29 L473.29,151.94 L474,151.49 L474.71,151.27 L475.43,151.56 L476.14,152.57 L476.86,152.33 L477.57,152.3 L478.29,153.2 L479,153.08 L479.71,153.41 L480.43,152.14 L481.14,152.29 L481.86,152.37 L482.57,152.09 L483.29,151.97 L484,150.85 L484.71,151.22 L485.43,151.21 L486.14,151.57 L486.86,152.82 L487.57,152.64 L488.29,153.25 L489,152.65 L489.71,153.17 L490.43,152.49 L491.14,152.01 L491.86,152.34 L492.57,152.28 L493.29,151.09 L494,151.62 L494.71,151.7 L495.43,151.39 L496.14,151.81 L496.86,151.8 L497.57,152.12 L498.29,152.35 L499,152.82 L499.72,152.86 L500.44,152.28 L501.16,151.97 L501.88,152.25 L502.6,152.56 L503.32,151.86 L504.04,151.92 L504.76,151.71 L505.48,152.37 L506.2,152.06" fill="none" stroke="#1f6fdc" stroke-width="1.6" stroke-linejoin="round"/>
<text transform="translate(494.9,59.3) scale(0.965,1.0)" font-size="9.5" text-anchor="end" font-weight="bold" fill="#168516"><tspan font-size="10.6" stroke="#168516" stroke-width="0.35">@</tspan> 3395 G</text>
<text transform="translate(494.9,114.3) scale(0.965,1.0)" font-size="9.5" text-anchor="end" font-weight="bold" fill="#f04848"><tspan font-size="10.6" stroke="#f04848" stroke-width="0.35">@</tspan> 3422 G</text>
<text transform="translate(494.6,164.3) scale(0.965,1.0)" font-size="9.5" text-anchor="end" font-weight="bold" fill="#1f6fdc"><tspan font-size="10.6" stroke="#1f6fdc" stroke-width="0.35">@</tspan> 3450 G</text>
<path d="M537.1,62.06 L537.9,62.09 L538.7,62.43 L539.5,62.6 L540.3,62.68 L541.1,62.01 L541.9,62.08 L542.7,62.7 L543.5,62.34 L544.3,62.17 L545.1,62.18 L545.9,62.94 L546.7,62.15 L547.5,62.44 L548.3,62.17 L549.1,62.22 L549.9,62.74 L550.7,62.83 L551.5,61.99 L552.3,61.71 L553.1,62.26 L553.9,61.55 L554.7,61.24 L555.5,62.23 L556.3,61.58 L557.1,61.97 L557.9,61.4 L558.7,61.61 L559.5,60.7 L560.3,59.95 L561.1,59.37 L561.9,59.61 L562.7,58.44 L563.5,57.37 L564.3,52.36 L565.1,44.6 L565.9,35.9 L566.7,30.23 L567.5,24.34 L568.3,25.34 L569.1,28.56 L569.9,33.12 L570.7,37.36 L571.5,43.03 L572.3,46.2 L573.1,47.73 L573.9,48.14 L574.7,49.23 L575.5,50.94 L576.3,51.71 L577.1,51.84 L577.9,52.04 L578.7,53.66 L579.5,53.59 L580.3,54.78 L581.1,54.98 L581.9,55.55 L582.7,55.07 L583.5,56.14 L584.3,55.79 L585.1,56.31 L585.9,57.06 L586.7,57.26 L587.5,56.7 L588.3,56.96 L589.1,57.39 L589.9,57.75 L590.7,57.81 L591.5,57.71 L592.3,58.04 L593.1,58.75 L593.9,59.08 L594.7,58.18 L595.5,58.93 L596.3,59.3 L597.1,58.56 L597.9,59.65 L598.7,58.91 L599.5,59.62 L600.3,59.66 L601.1,59.86 L601.9,59.58 L602.7,59.82 L603.5,60.12 L604.3,60.03 L605.1,60.42 L605.9,60.26 L606.7,60.36 L607.5,59.96 L608.3,60.77 L609.1,60.69 L609.9,60.47 L610.7,61.18 L611.5,61.27 L612.3,60.96 L613.1,60.71 L613.9,61.14 L614.7,60.77 L615.5,60.88 L616.3,61.32 L617.1,60.95 L617.9,61.4 L618.7,61.52 L619.5,60.99 L620.3,61.74 L621.1,61.11 L621.9,61.93 L622.7,62.01 L623.5,61.73 L624.3,61.22 L625.1,61.79 L625.9,61.67 L626.7,62.4 L627.5,61.45 L628.3,62.35 L629.1,62.56 L629.9,62.27 L630.7,62.39 L631.5,61.65 L632.3,62.6 L633.1,62.02 L633.9,62.59 L634.7,62.55 L635.5,61.66 L636.3,62.41 L637.1,62.59 L637.9,61.56 L638.7,61.91 L639.5,62.41 L640.3,61.7 L641.1,62.59 L641.9,61.86 L642.7,62.51 L643.5,61.71 L644.3,62.15 L645.1,62.66 L645.9,61.82 L646.7,61.89 L647.5,62.19 L648.3,61.98 L649.1,61.65 L649.9,61.83 L650.7,61.81 L651.5,62.75 L652.3,62.45 L653.1,62.72 L653.9,61.85 L654.7,62.6 L655.5,61.81 L656.3,62.31 L657.1,62.45 L657.9,62.13 L658.7,62.75 L659.5,62.38 L660.3,62.41 L661.1,62.79 L661.9,61.86 L662.7,62.94 L663.5,62.51 L664.3,62.23 L665.1,62.73 L665.9,62.1 L666.7,62.97 L667.5,62.49" fill="none" stroke="#168516" stroke-width="1.45" stroke-linejoin="round"/>
<path d="M537.1,111.96 L537.9,112.48 L538.7,112.13 L539.5,111.85 L540.3,112.57 L541.1,111.77 L541.9,112.74 L542.7,112.09 L543.5,112.6 L544.3,113.05 L545.1,112.59 L545.9,112.58 L546.7,112.06 L547.5,111.59 L548.3,111.53 L549.1,111.56 L549.9,111.96 L550.7,111.58 L551.5,111.52 L552.3,112.17 L553.1,112.06 L553.9,112.97 L554.7,114.28 L555.5,114.33 L556.3,114.15 L557.1,113.85 L557.9,112.82 L558.7,112.4 L559.5,111.61 L560.3,111.48 L561.1,110.91 L561.9,109.88 L562.7,109.82 L563.5,108.42 L564.3,106.71 L565.1,106.23 L565.9,103.03 L566.7,100.56 L567.5,97.12 L568.3,92.73 L569.1,87.97 L569.9,83.62 L570.7,79.74 L571.5,76.15 L572.3,76.15 L573.1,77.75 L573.9,79.5 L574.7,82.09 L575.5,85.29 L576.3,87.64 L577.1,90.39 L577.9,92.31 L578.7,93.89 L579.5,96.92 L580.3,98.2 L581.1,101.09 L581.9,103.14 L582.7,105.04 L583.5,106.25 L584.3,103.75 L585.1,97.86 L585.9,100.53 L586.7,103.09 L587.5,103.26 L588.3,104.15 L589.1,104.93 L589.9,105.11 L590.7,105.56 L591.5,106.04 L592.3,105.52 L593.1,105.94 L593.9,106.19 L594.7,106.14 L595.5,107.4 L596.3,107.46 L597.1,107.53 L597.9,106.83 L598.7,107.99 L599.5,108.03 L600.3,107.85 L601.1,108.34 L601.9,108.14 L602.7,108.03 L603.5,108.04 L604.3,108.34 L605.1,108.26 L605.9,108.71 L606.7,109.3 L607.5,109.33 L608.3,109.61 L609.1,109.54 L609.9,109.1 L610.7,109.54 L611.5,109.5 L612.3,110.02 L613.1,109.79 L613.9,109.58 L614.7,110.13 L615.5,110.61 L616.3,109.81 L617.1,110.7 L617.9,109.73 L618.7,110.07 L619.5,110.09 L620.3,110.74 L621.1,111.02 L621.9,110.83 L622.7,110.37 L623.5,111.07 L624.3,110.45 L625.1,110.39 L625.9,111.23 L626.7,110.94 L627.5,111.06 L628.3,111.07 L629.1,111.49 L629.9,110.92 L630.7,111.41 L631.5,111.28 L632.3,111.52 L633.1,111.06 L633.9,111.44 L634.7,111.3 L635.5,111.03 L636.3,110.96 L637.1,111.49 L637.9,110.88 L638.7,111.92 L639.5,111.05 L640.3,110.94 L641.1,111.07 L641.9,112.09 L642.7,111.42 L643.5,111.21 L644.3,111.1 L645.1,111.15 L645.9,111.96 L646.7,111.92 L647.5,112.03 L648.3,112.11 L649.1,111.34 L649.9,112 L650.7,111.76 L651.5,112.33 L652.3,112.37 L653.1,112.48 L653.9,111.53 L654.7,112.52 L655.5,112.61 L656.3,112.67 L657.1,111.7 L657.9,111.85 L658.7,111.77 L659.5,111.71 L660.3,112.71 L661.1,112.7 L661.9,112.52 L662.7,112.78 L663.5,112.58 L664.3,112.2 L665.1,112.01 L665.9,112.03 L666.7,112.86 L667.5,112.23" fill="none" stroke="#f04848" stroke-width="1.45" stroke-linejoin="round"/>
<path d="M537.1,164.78 L537.9,165.06 L538.7,164.73 L539.5,165.16 L540.3,165.34 L541.1,166.02 L541.9,165.75 L542.7,165.85 L543.5,166.77 L544.3,166.37 L545.1,166.91 L545.9,166.55 L546.7,165.77 L547.5,166.15 L548.3,166.09 L549.1,166.42 L549.9,165.83 L550.7,166.16 L551.5,165.86 L552.3,165.37 L553.1,166.05 L553.9,165.02 L554.7,165.34 L555.5,163.94 L556.3,163.11 L557.1,162.73 L557.9,162.78 L558.7,162.33 L559.5,160.21 L560.3,159.83 L561.1,158.8 L561.9,157.61 L562.7,155.32 L563.5,151.17 L564.3,146.05 L565.1,141.12 L565.9,134.73 L566.7,129.85 L567.5,130.86 L568.3,133.66 L569.1,141.15 L569.9,144.75 L570.7,146.28 L571.5,147.9 L572.3,147.61 L573.1,148.95 L573.9,149.46 L574.7,150.19 L575.5,150.83 L576.3,151.41 L577.1,152.37 L577.9,153.26 L578.7,154.62 L579.5,154.4 L580.3,156.11 L581.1,155.82 L581.9,156.79 L582.7,157.48 L583.5,158.51 L584.3,158.29 L585.1,158.41 L585.9,159.27 L586.7,158.75 L587.5,159.29 L588.3,159.61 L589.1,160.08 L589.9,160.27 L590.7,160.34 L591.5,160.18 L592.3,160.35 L593.1,160.34 L593.9,161.37 L594.7,161.35 L595.5,161.64 L596.3,161.09 L597.1,161.54 L597.9,162.06 L598.7,161.95 L599.5,161.52 L600.3,162.05 L601.1,162.68 L601.9,162.02 L602.7,162.08 L603.5,162.34 L604.3,162.94 L605.1,163.22 L605.9,162.49 L606.7,162.59 L607.5,162.79 L608.3,162.98 L609.1,163.31 L609.9,162.98 L610.7,163.27 L611.5,163.2 L612.3,164.24 L613.1,164.04 L613.9,163.38 L614.7,164.51 L615.5,163.57 L616.3,164.01 L617.1,164.82 L617.9,164.67 L618.7,164.63 L619.5,164.31 L620.3,164.06 L621.1,164.62 L621.9,164.02 L622.7,164.18 L623.5,164.43 L624.3,164.04 L625.1,164.51 L625.9,165.02 L626.7,164.94 L627.5,164.74 L628.3,164.94 L629.1,164.77 L629.9,164.42 L630.7,165.01 L631.5,164.81 L632.3,165.25 L633.1,165.48 L633.9,164.94 L634.7,165.15 L635.5,165.4 L636.3,165.04 L637.1,164.84 L637.9,165.47 L638.7,165.7 L639.5,165.61 L640.3,165.55 L641.1,165.76 L641.9,165.58 L642.7,165.57 L643.5,165.37 L644.3,165.23 L645.1,165.64 L645.9,165.03 L646.7,165.44 L647.5,165.91 L648.3,165.85 L649.1,165.78 L649.9,165.35 L650.7,165.59 L651.5,165.66 L652.3,165.89 L653.1,165.66 L653.9,166.01 L654.7,166.34 L655.5,165.47 L656.3,166.07 L657.1,166.24 L657.9,165.81 L658.7,165.96 L659.5,166.57 L660.3,165.47 L661.1,166.11 L661.9,165.68 L662.7,166.45 L663.5,166.67 L664.3,166.19 L665.1,165.72 L665.9,166.31 L666.7,166.3 L667.5,166.54" fill="none" stroke="#1f6fdc" stroke-width="1.45" stroke-linejoin="round"/>
<text transform="translate(656.2,42.2) scale(0.965,1.0)" font-size="9.5" text-anchor="end" font-weight="bold" fill="#168516">Ω = 9.47 MHz</text>
<text transform="translate(656.2,54.4) scale(0.965,1.0)" font-size="9.5" text-anchor="end" font-weight="bold" fill="#168516">(1.77)</text>
<text transform="translate(656.8,92.1) scale(0.965,1.0)" font-size="9.5" text-anchor="end" font-weight="bold" fill="#f04848">Ω = 10.7 MHz</text>
<text transform="translate(656.8,103.8) scale(0.965,1.0)" font-size="9.5" text-anchor="end" font-weight="bold" fill="#f04848">(2.00)</text>
<text transform="translate(656.8,145.2) scale(0.965,1.0)" font-size="9.5" text-anchor="end" font-weight="bold" fill="#1f6fdc">Ω = 9.18 MHz</text>
<text transform="translate(656.8,156.6) scale(0.965,1.0)" font-size="9.5" text-anchor="end" font-weight="bold" fill="#1f6fdc">(1.72)</text>
<text x="585.8" y="96.5" font-size="8" font-weight="bold" fill="#222" text-anchor="middle">*</text>

<text x="340" y="245.3" font-size="10.5" font-weight="bold">c</text>

<clipPath id="pcclip"><rect x="374.4" y="241.0" width="263.8" height="143.6"/></clipPath>
<g clip-path="url(#pcclip)">
<line x1="374.4" y1="384.6" x2="638.2" y2="231.43" stroke="#f5a3a3" stroke-width="2.4"/>
<line x1="374.4" y1="384.6" x2="638.2" y2="249.81" stroke="#8fb5ee" stroke-width="2.4"/>
<line x1="374.4" y1="384.6" x2="638.2" y2="253.64" stroke="#79b979" stroke-width="2.4"/>
</g>
<rect x="374.4" y="241.0" width="263.8" height="143.6" fill="none" stroke="#333" stroke-width="1.1"/>
<line x1="374.4" y1="384.6" x2="374.4" y2="388.6" stroke="#333" stroke-width="1"/>
<line x1="407.38" y1="384.6" x2="407.38" y2="386.6" stroke="#333" stroke-width="1"/>
<line x1="440.35" y1="384.6" x2="440.35" y2="388.6" stroke="#333" stroke-width="1"/>
<line x1="473.32" y1="384.6" x2="473.32" y2="386.6" stroke="#333" stroke-width="1"/>
<line x1="506.3" y1="384.6" x2="506.3" y2="388.6" stroke="#333" stroke-width="1"/>
<line x1="539.28" y1="384.6" x2="539.28" y2="386.6" stroke="#333" stroke-width="1"/>
<line x1="572.25" y1="384.6" x2="572.25" y2="388.6" stroke="#333" stroke-width="1"/>
<line x1="605.23" y1="384.6" x2="605.23" y2="386.6" stroke="#333" stroke-width="1"/>
<line x1="638.2" y1="384.6" x2="638.2" y2="388.6" stroke="#333" stroke-width="1"/>
<line x1="638.2" y1="384.6" x2="641.8" y2="384.6" stroke="#333" stroke-width="1"/>
<line x1="638.2" y1="360.67" x2="640.2" y2="360.67" stroke="#333" stroke-width="1"/>
<line x1="638.2" y1="336.73" x2="641.8" y2="336.73" stroke="#333" stroke-width="1"/>
<line x1="638.2" y1="312.8" x2="640.2" y2="312.8" stroke="#333" stroke-width="1"/>
<line x1="638.2" y1="288.87" x2="641.8" y2="288.87" stroke="#333" stroke-width="1"/>
<line x1="638.2" y1="264.93" x2="640.2" y2="264.93" stroke="#333" stroke-width="1"/>
<line x1="638.2" y1="241" x2="641.8" y2="241" stroke="#333" stroke-width="1"/>
<text transform="translate(374.4,399.3) scale(0.895,1.0)" font-size="10.4" text-anchor="middle" fill="#222">0</text>
<text transform="translate(440.35,399.3) scale(0.895,1.0)" font-size="10.4" text-anchor="middle" fill="#222">2</text>
<text transform="translate(506.3,399.3) scale(0.895,1.0)" font-size="10.4" text-anchor="middle" fill="#222">4</text>
<text transform="translate(572.25,399.3) scale(0.895,1.0)" font-size="10.4" text-anchor="middle" fill="#222">6</text>
<text transform="translate(638.2,399.3) scale(0.895,1.0)" font-size="10.4" text-anchor="middle" fill="#222">8</text>
<text transform="translate(645.2,388.2) scale(0.895,1.0)" font-size="10.4" fill="#222">0</text>
<text transform="translate(645.2,340.33) scale(0.895,1.0)" font-size="10.4" fill="#222">5</text>
<text transform="translate(645.2,292.47) scale(0.895,1.0)" font-size="10.4" fill="#222">10</text>
<text transform="translate(645.2,244.6) scale(0.895,1.0)" font-size="10.4" fill="#222">15</text>
<text transform="translate(668.2,312.5) rotate(-90) scale(1.0,0.9)" font-size="10.85" text-anchor="middle" fill="#222">Nutation Frequency (MHz)</text>
<text x="476.4" y="416" font-size="10.3" fill="#222"><tspan font-style="italic">gμ</tspan><tspan font-size="7" dy="3.1">B</tspan><tspan font-style="italic" dy="-3.1" dx="0.3">B</tspan><tspan font-size="7" dy="3.1">1</tspan><tspan dy="-3.1" font-size="10.6" dx="0.6"> (MHz)</tspan></text>

<circle cx="464.42" cy="338.07" r="2.6" fill="#fff" stroke="#168516" stroke-width="1.7"/>
<circle cx="501.02" cy="321.03" r="2.6" fill="#fff" stroke="#168516" stroke-width="1.7"/>
<circle cx="553.45" cy="296.62" r="2.6" fill="#fff" stroke="#168516" stroke-width="1.7"/>
<circle cx="464.42" cy="337.5" r="2.6" fill="#fff" stroke="#1f6fdc" stroke-width="1.7"/>
<circle cx="501.02" cy="318.45" r="2.6" fill="#fff" stroke="#1f6fdc" stroke-width="1.7"/>
<circle cx="553.45" cy="293.27" r="2.6" fill="#fff" stroke="#1f6fdc" stroke-width="1.7"/>
<circle cx="464.42" cy="330.32" r="2.6" fill="#fff" stroke="#f04848" stroke-width="1.7"/>
<circle cx="501.02" cy="309.74" r="2.6" fill="#fff" stroke="#f04848" stroke-width="1.7"/>
<circle cx="553.45" cy="282.26" r="2.6" fill="#fff" stroke="#f04848" stroke-width="1.7"/>
<line x1="382" y1="263.3" x2="405.5" y2="263.3" stroke="#79b979" stroke-width="2.8"/>
<circle cx="395" cy="263.3" r="2.6" fill="#fff" stroke="#168516" stroke-width="1.7"/>
<text transform="translate(408.8,266.8) scale(0.965,1.0)" font-size="9.8" font-weight="bold" fill="#168516">3395 G</text>
<line x1="382" y1="275.4" x2="405.5" y2="275.4" stroke="#f5a3a3" stroke-width="2.8"/>
<circle cx="395" cy="275.4" r="2.6" fill="#fff" stroke="#f04848" stroke-width="1.7"/>
<text transform="translate(408.8,278.9) scale(0.965,1.0)" font-size="9.8" font-weight="bold" fill="#f04848">3422 G</text>
<line x1="382" y1="287.6" x2="405.5" y2="287.6" stroke="#8fb5ee" stroke-width="2.8"/>
<circle cx="395" cy="287.6" r="2.6" fill="#fff" stroke="#1f6fdc" stroke-width="1.7"/>
<text transform="translate(408.8,291.1) scale(0.965,1.0)" font-size="9.8" font-weight="bold" fill="#1f6fdc">3450 G</text>
<text transform="translate(490.3,291.5) scale(0.975,1.0)" font-size="9.8" font-weight="bold" fill="#f04848"><tspan font-style="italic">k</tspan> = 2.00</text>
<text transform="translate(559.1,313.8) scale(0.975,1.0)" font-size="9.8" font-weight="bold" fill="#1f6fdc"><tspan font-style="italic">k</tspan> = 1.76</text>
<text transform="translate(477.1,347.8) scale(0.975,1.0)" font-size="9.8" font-weight="bold" fill="#168516"><tspan font-style="italic">k</tspan> = 1.71</text>
<rect x="340.3" y="426.6" width="345" height="1.4" fill="#dadada"/>
</svg>
</body></html>
